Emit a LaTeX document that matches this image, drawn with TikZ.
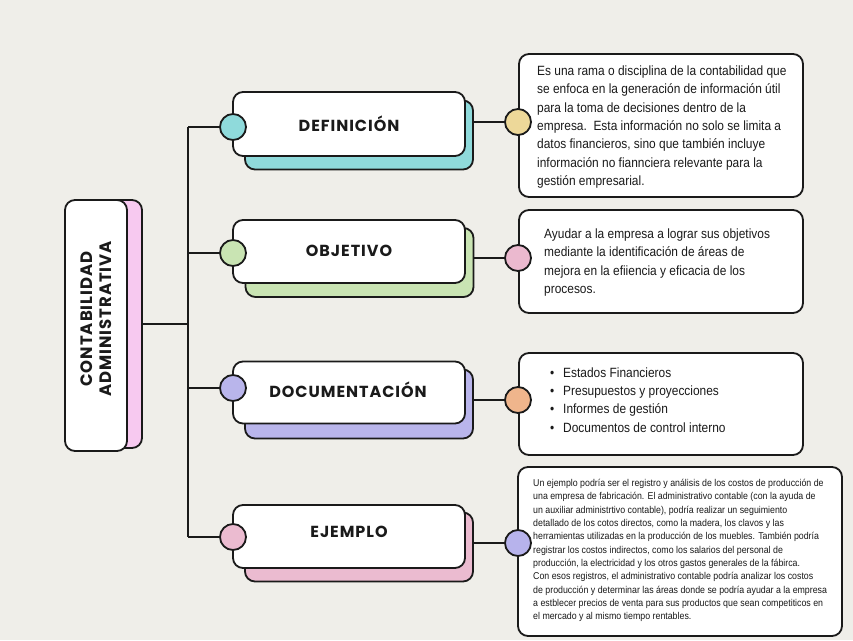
\documentclass[tikz,border=0pt]{standalone}
\usepackage{fontspec}
\setmainfont{Liberation Sans}[FakeStretch=0.89]
\newfontfamily\headfont{Poppins}[LetterSpace=6]
\definecolor{bgc}{HTML}{EFEEE9}
\definecolor{ink}{HTML}{1A1A1A}
\definecolor{cteal}{HTML}{8FDADB}
\definecolor{cgreen}{HTML}{C9E4B3}
\definecolor{cpurple}{HTML}{B9B5EB}
\definecolor{cpinkej}{HTML}{EBBBD0}
\definecolor{cpinkcen}{HTML}{F7C9F0}
\definecolor{cyellow}{HTML}{EDD899}
\definecolor{cpinkr}{HTML}{EBB9CF}
\definecolor{corange}{HTML}{EFB58C}
\definecolor{cpurpler}{HTML}{B7B3EC}
\tikzset{
  lin/.style={draw=ink, line width=1.6pt},
  wbox/.style={draw=ink, line width=1.8pt, fill=white, rounded corners=10pt, minimum width=232pt, minimum height=64pt, inner sep=0pt},
  bkbox/.style={draw=ink, line width=1.8pt, rounded corners=10pt, minimum width=228pt, minimum height=69pt, inner sep=0pt},
  rbox/.style={draw=ink, line width=1.8pt, fill=white, rounded corners=10pt, inner sep=0pt},
  dot/.style={circle, draw=ink, line width=1.8pt, minimum size=26pt, inner sep=0pt},
  head/.style={font=\headfont\bfseries\fontsize{16}{18}\selectfont, text=ink},
  body/.style={font=\fontsize{13.4}{18.3}\selectfont, text=ink, align=left, inner sep=0pt, anchor=west},
}
\begin{document}
\begin{tikzpicture}[x=1pt,y=-1pt]
\useasboundingbox (0,0) rectangle (853,640);
\fill[bgc] (0,0) rectangle (853,640);

% central
\node[bkbox, fill=cpinkcen, minimum width=67pt, minimum height=248pt] (cenbk) at (108.5,324) {};
\node[wbox, minimum width=62pt, minimum height=251pt] (cen) at (96,325.5) {};
\node[head, rotate=90, align=center, font=\headfont\bfseries\fontsize{16.5}{19}\selectfont] (centxt) at (96,319) {CONTABILIDAD\\ADMINISTRATIVA};

% trunk coordinates
\coordinate (tmid) at (188,324);
\coordinate (t1) at (188,127);
\coordinate (t2) at (188,253);
\coordinate (t3) at (188,388);
\coordinate (t4) at (188,537);

\draw[lin] (cenbk.east) -- (tmid);
\draw[lin] (t1) -- (t4);

% right boxes
\node[rbox, minimum width=284pt, minimum height=143pt] (r1) at (661,125.5) {};
\node[rbox, minimum width=284pt, minimum height=103pt] (r2) at (661,261.5) {};
\node[rbox, minimum width=284pt, minimum height=102pt] (r3) at (661,404) {};
\node[rbox, minimum width=324pt, minimum height=169pt] (r4) at (680,551.5) {};

% heading backings
\node[bkbox, fill=cteal] (b1) at (359,135) {};
\node[bkbox, fill=cgreen] (b2) at (359.5,262.5) {};
\node[bkbox, fill=cpurple] (b3) at (359,404) {};
\node[bkbox, fill=cpinkej] (b4) at (359,547) {};

% right dots
\node[dot, fill=cyellow] (rc1) at (518,122) {};
\node[dot, fill=cpinkr] (rc2) at (518,258) {};
\node[dot, fill=corange] (rc3) at (518,400) {};
\node[dot, fill=cpurpler] (rc4) at (518,543) {};

\draw[lin] (b1.east |- rc1) -- (rc1.west);
\draw[lin] (b2.east |- rc2) -- (rc2.west);
\draw[lin] (b3.east |- rc3) -- (rc3.west);
\draw[lin] (b4.east |- rc4) -- (rc4.west);

% heading white boxes
\node[wbox] (h1) at (349,124) {};
\node[wbox, minimum height=63pt] (h2) at (349,251.5) {};
\node[wbox, minimum height=62pt] (h3) at (349,392.5) {};
\node[wbox, minimum height=63pt] (h4) at (349,536.5) {};

% left dots
\node[dot, fill=cteal] (lc1) at (233,127) {};
\node[dot, fill=cgreen] (lc2) at (233,253) {};
\node[dot, fill=cpurple] (lc3) at (233,388) {};
\node[dot, fill=cpinkej] (lc4) at (233,537) {};

\draw[lin] (t1) -- (lc1.west);
\draw[lin] (t2) -- (lc2.west);
\draw[lin] (t3) -- (lc3.west);
\draw[lin] (t4) -- (lc4.west);

% heading texts
\node[head] (ht1) at (349,124) {DEFINICIÓN};
\node[head] (ht2) at (349,251) {OBJETIVO};
\node[head] (ht3) at (348,390) {DOCUMENTACIÓN};
\node[head] (ht4) at (349,532) {EJEMPLO};

% body texts
\node[body] (tx1) at (537,127) {Es una rama o disciplina de la contabilidad que\\
se enfoca en la generación de información útil\\
para la toma de decisiones dentro de la\\
empresa.\ \ Esta información no solo se limita a\\
datos financieros, sino que también incluye\\
información no fiannciera relevante para la\\
gestión empresarial.};

\node[body] (tx2) at (544,262.5) {Ayudar a la empresa a lograr sus objetivos\\
mediante la identificación de áreas de\\
mejora en la efiiencia y eficacia de los\\
procesos.};

\node[body] (tx3) at (550,400) {\makebox[13pt][l]{\textbullet}Estados Financieros\\
\makebox[13pt][l]{\textbullet}Presupuestos y proyecciones\\
\makebox[13pt][l]{\textbullet}Informes de gestión\\
\makebox[13pt][l]{\textbullet}Documentos de control interno};

\node[body, font=\fontsize{9.9}{13.3}\selectfont] (tx4) at (533,550.5) {Un ejemplo podría ser el registro y análisis de los costos de producción de\\
una empresa de fabricación. El administrativo contable (con la ayuda de\\
un auxiliar administrtivo contable), podría realizar un seguimiento\\
detallado de los cotos directos, como la madera, los clavos y las\\
herramientas utilizadas en la producción de los muebles. También podría\\
registrar los costos indirectos, como los salarios del personal de\\
producción, la electricidad y los otros gastos generales de la fábirca.\\
Con esos registros, el administrativo contable podría analizar los costos\\
de producción y determinar las áreas donde se podría ayudar a la empresa\\
a estblecer precios de venta para sus productos que sean competiticos en\\
el mercado y al mismo tiempo rentables.};
\end{tikzpicture}
\end{document}
